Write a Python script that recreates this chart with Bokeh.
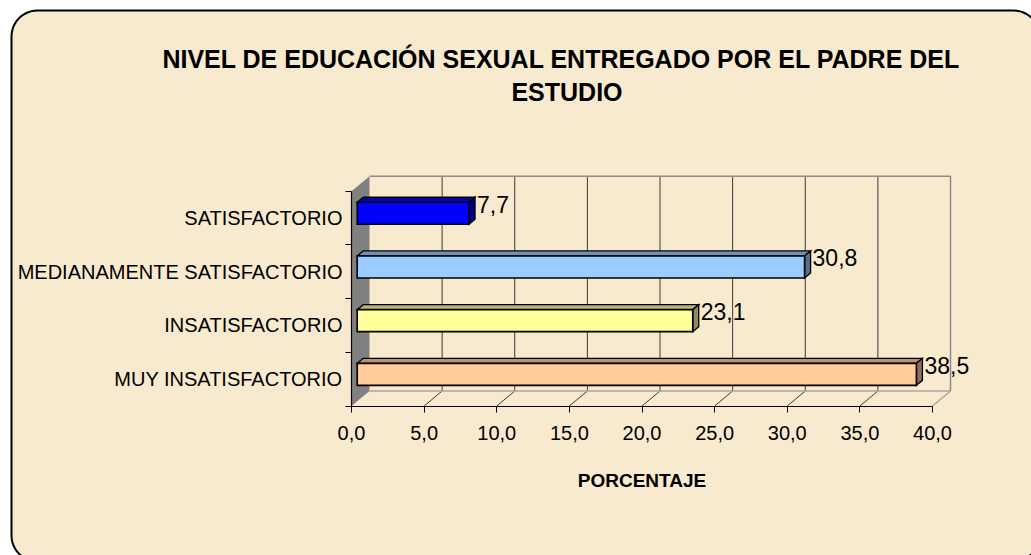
import math
from bokeh.plotting import figure
from bokeh.models import Range1d, LinearAxis, FixedTicker
from bokeh.core.properties import value
from bokeh.embed import file_html
from bokeh.resources import INLINE

# ---------------- data ----------------
categories = ["MUY INSATISFACTORIO", "INSATISFACTORIO",
              "MEDIANAMENTE SATISFACTORIO", "SATISFACTORIO"]
values = [38.5, 23.1, 30.8, 7.7]
value_labels = ["38,5", "23,1", "30,8", "7,7"]
bar_colors = ["#FFCC99", "#FFFF99", "#99CCFF", "#0000FF"]
x_ticks = [0, 5, 10, 15, 20, 25, 30, 35, 40]
x_tick_labels = ["0,0", "5,0", "10,0", "15,0", "20,0", "25,0", "30,0", "35,0", "40,0"]
title_lines = ["NIVEL DE EDUCACIÓN SEXUAL ENTREGADO POR EL PADRE  DEL", "ESTUDIO"]
axis_title = "PORCENTAJE"

# ---------------- layout constants ----------------
W, H = 1031, 555
X0 = 351.0                 # canvas px of value 0 (front plane)
PPU_X = (932 - 351) / 40.0
Y0 = 405.5                 # canvas px (from top) of category base
PPU_Y = (405.5 - 190.7) / 4.0
FONT = "Liberation Sans"


def xd(px):
    return (px - X0) / PPU_X


def yd(py):
    return (Y0 - py) / PPU_Y


def dxu(px):
    return px / PPU_X


def dyu(px):
    return px / PPU_Y


def shade(hex_color, f):
    h = hex_color.lstrip("#")
    r, g, b = (int(h[i:i + 2], 16) for i in (0, 2, 4))
    return "#%02X%02X%02X" % (int(r * f), int(g * f), int(b * f))


n_cat = len(categories)
x_max = x_ticks[-1]

p = figure(width=W, height=H,
           x_range=Range1d(xd(0), xd(W)), y_range=Range1d(yd(H), yd(0)),
           x_axis_type=None, y_axis_type=None,
           toolbar_location=None, output_backend="svg",
           min_border=0, min_border_left=0, min_border_right=0,
           min_border_top=0, min_border_bottom=0,
           background_fill_color="white", border_fill_color="white",
           outline_line_color=None)

# ---------------- parchment panel with rounded border ----------------
L, T, R, B, RAD = 11, 10, 1039, 561, 26
px_pts, py_pts = [], []
corners = [(L + RAD, T + RAD, 180, 270), (R - RAD, T + RAD, 270, 360),
           (R - RAD, B - RAD, 0, 90), (L + RAD, B - RAD, 90, 180)]
for cx, cy, a0, a1 in corners:
    for k in range(13):
        a = math.radians(a0 + (a1 - a0) * k / 12)
        px_pts.append(xd(cx + RAD * math.cos(a)))
        py_pts.append(yd(cy + RAD * math.sin(a)))
p.patch(px_pts, py_pts, fill_color="#F8EACE", line_color="black", line_width=2)

# ---------------- 3D walls ----------------
DX, DY = dxu(18), dyu(15)
# left (side) wall
p.patch([0, DX, DX, 0], [0, DY, n_cat + DY, n_cat],
        fill_color="#808080", line_color=None)
# back wall gridlines
inner = x_ticks[1:-1]
p.segment(x0=[t + DX for t in inner], y0=[DY] * len(inner),
          x1=[t + DX for t in inner], y1=[n_cat + DY] * len(inner),
          line_color="#3A3A3A", line_width=1)
# floor diagonals
p.segment(x0=inner, y0=[0] * len(inner),
          x1=[t + DX for t in inner], y1=[DY] * len(inner),
          line_color="#3A3A3A", line_width=1)
# back wall / floor outline (gray)
p.line([DX, x_max + DX, x_max + DX], [n_cat + DY, n_cat + DY, DY],
       line_color="#8C8C8C", line_width=1.5)
p.line([DX, x_max + DX, x_max], [DY, DY, 0],
       line_color="#A6A6A6", line_width=1.5)

# ---------------- 3D bars ----------------
BX, BY = dxu(5.7), dyu(4.8)
HH = dyu(11)
DDX, DDY = dxu(6), dyu(5)
fx, fy, tx, ty, sx, sy = [], [], [], [], [], []
for i, v in enumerate(values):
    yc = i + 0.5 + BY
    yb, yt = yc - HH, yc + HH
    x1, x2 = BX, v + BX
    fx.append([x1, x2, x2, x1]); fy.append([yb, yb, yt, yt])
    tx.append([x1, x2, x2 + DDX, x1 + DDX]); ty.append([yt, yt, yt + DDY, yt + DDY])
    sx.append([x2, x2 + DDX, x2 + DDX, x2]); sy.append([yb, yb + DDY, yt + DDY, yt])

p.patches(tx, ty, fill_color=[shade(c, 0.72) for c in bar_colors],
          line_color="black", line_width=1.3, line_join="miter")
p.patches(sx, sy, fill_color=[shade(c, 0.55) for c in bar_colors],
          line_color="black", line_width=1.3, line_join="miter")
p.patches(fx, fy, fill_color=bar_colors,
          line_color="black", line_width=1.6, line_join="miter")

# data labels
p.text(x=[v + BX + DDX + dxu(2) for v in values],
       y=[i + 0.5 + BY + dyu(9) for i in range(n_cat)],
       text=value_labels, text_align="left", text_baseline="middle",
       text_font=value(FONT), text_font_size="23px", text_color="black")

# ---------------- axes (fixed at the front plane) ----------------
xaxis = LinearAxis(fixed_location=0, bounds=(0, x_max),
                   ticker=FixedTicker(ticks=x_ticks),
                   major_label_overrides=dict(zip(x_ticks, x_tick_labels)))
xaxis.axis_line_color = "black"
xaxis.axis_line_width = 1.2
xaxis.major_tick_line_color = "black"
xaxis.major_tick_out = 6
xaxis.major_tick_in = 0
xaxis.minor_tick_line_color = None
xaxis.major_label_standoff = 14
xaxis.major_label_text_font = FONT
xaxis.major_label_text_font_size = "20px"
xaxis.major_label_text_color = "black"
p.add_layout(xaxis, "below")

ytick_axis = LinearAxis(fixed_location=0, bounds=(0, n_cat),
                        ticker=FixedTicker(ticks=list(range(n_cat + 1))),
                        major_label_overrides={k: "" for k in range(n_cat + 1)})
ytick_axis.axis_line_color = "black"
ytick_axis.axis_line_width = 1.2
ytick_axis.major_tick_line_color = "black"
ytick_axis.major_tick_out = 6
ytick_axis.major_tick_in = 0
ytick_axis.minor_tick_line_color = None
ytick_axis.major_label_text_font_size = "1px"
p.add_layout(ytick_axis, "left")

centers = [i + 0.5 for i in range(n_cat)]
ycat_axis = LinearAxis(fixed_location=0, bounds=(0, n_cat),
                       ticker=FixedTicker(ticks=centers),
                       major_label_overrides=dict(zip(centers, categories)))
ycat_axis.axis_line_color = None
ycat_axis.major_tick_line_color = None
ycat_axis.minor_tick_line_color = None
ycat_axis.major_tick_out = 0
ycat_axis.major_tick_in = 0
ycat_axis.major_label_standoff = 9
ycat_axis.major_label_text_font = FONT
ycat_axis.major_label_text_font_size = "20px"
ycat_axis.major_label_text_color = "black"
p.add_layout(ycat_axis, "left")

# axis title
p.text(x=[x_max / 2], y=[yd(479.5)], text=[axis_title],
       text_align="center", text_baseline="middle",
       text_font=value(FONT), text_font_size="19px", text_font_style="bold",
       text_color="black")

# chart title
p.text(x=[xd(564.5), xd(566.5)], y=[yd(58.3), yd(91.7)], text=title_lines,
       text_align="center", text_baseline="middle",
       text_font=value(FONT), text_font_size="25px", text_font_style="bold",
       text_color="black")

open("out.html", "w").write(file_html(p, INLINE))
